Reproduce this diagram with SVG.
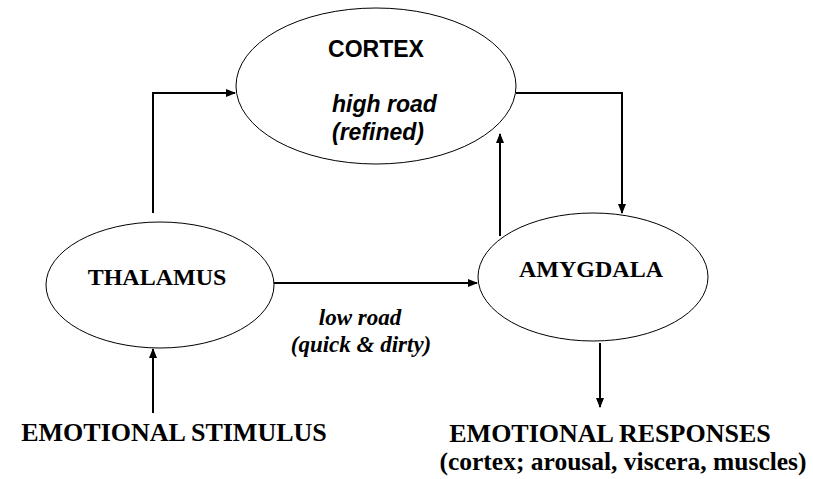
<svg xmlns="http://www.w3.org/2000/svg" width="813" height="479" viewBox="0 0 813 479">
<defs>
<marker id="ah" markerWidth="10" markerHeight="8" refX="9" refY="4" orient="auto" markerUnits="userSpaceOnUse">
<path d="M0,0 L10,4 L0,8 z" fill="#000"/>
</marker>
<style>
.node{fill:#fff;stroke:#000;stroke-width:1}
.edge{fill:none;stroke:#000;stroke-width:2;marker-end:url(#ah)}
.sans{font-family:"Liberation Sans",Arial,sans-serif;font-weight:bold;text-anchor:middle}
.sansl{font-family:"Liberation Sans",Arial,sans-serif;font-weight:bold;font-style:italic;text-anchor:start}
.serif{font-family:"Liberation Serif","Times New Roman",serif;font-weight:bold;text-anchor:middle}
</style>
</defs>
<rect width="813" height="479" fill="#fff"/>
<g id="connectors">
<path class="edge" d="M153,213 V93 H235"/>
<path class="edge" d="M516,93 H622 V213"/>
<path class="edge" d="M500,236 V134"/>
<path class="edge" d="M274,283 H477"/>
<path class="edge" d="M153,413 V349"/>
<path class="edge" d="M600,343 V407"/>
</g>
<g id="cortex">
<ellipse class="node" cx="376" cy="86" rx="140" ry="78"/>
<text class="sans" x="376" y="57" font-size="23">CORTEX</text>
<text class="sansl" x="332" y="112" font-size="23">high road</text>
<text class="sansl" x="332" y="140" font-size="23">(refined)</text>
</g>
<g id="thalamus">
<ellipse class="node" cx="160" cy="285" rx="114" ry="63"/>
<text class="serif" x="157" y="285" font-size="24">THALAMUS</text>
</g>
<g id="amygdala">
<ellipse class="node" cx="593" cy="277" rx="115" ry="64"/>
<text class="serif" x="591" y="277" font-size="24">AMYGDALA</text>
</g>
<g id="low-road">
<text class="serif" x="360" y="325" font-size="23" font-style="italic">low road</text>
<text class="serif" x="361" y="352" font-size="23" font-style="italic">(quick &amp; dirty)</text>
</g>
<g id="stimulus">
<text class="serif" x="174" y="441" font-size="26">EMOTIONAL STIMULUS</text>
</g>
<g id="responses">
<text class="serif" x="610" y="442" font-size="26">EMOTIONAL RESPONSES</text>
<text class="serif" x="623" y="470" font-size="25.5">(cortex; arousal, viscera, muscles)</text>
</g>
</svg>
